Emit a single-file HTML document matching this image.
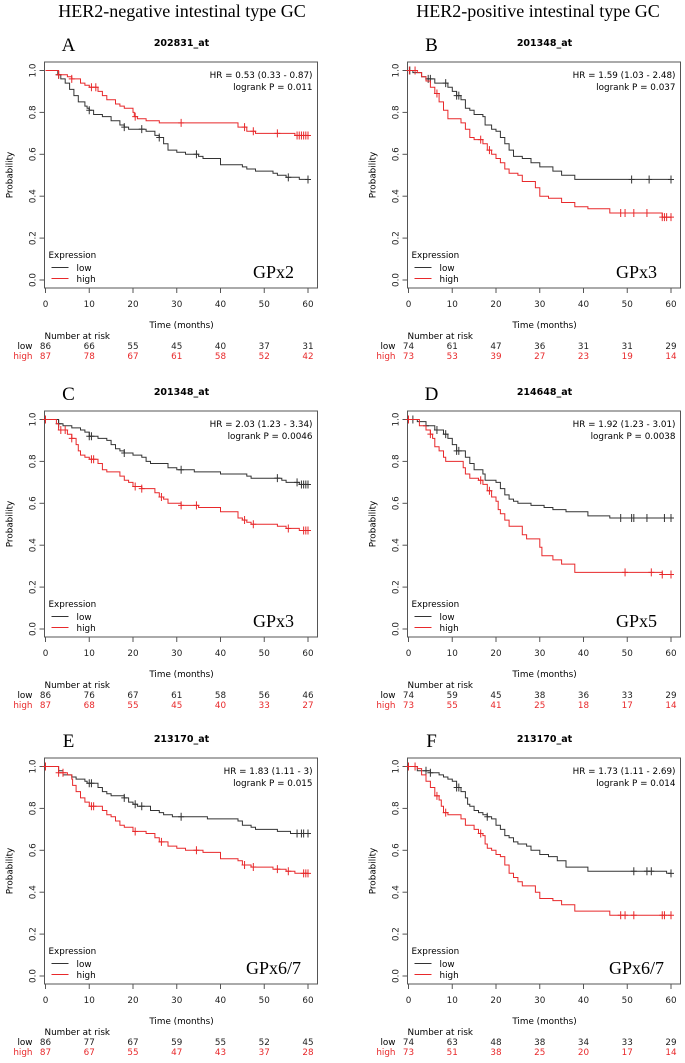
<!DOCTYPE html>
<html><head><meta charset="utf-8"><style>
body{margin:0;background:#fff}
svg{display:block}
text{font-family:"DejaVu Sans","Liberation Sans",sans-serif}
.serif{font-family:"Liberation Serif",serif}
</style></head><body>
<svg id="fig" width="685" height="1063" viewBox="0 0 685 1063" xmlns="http://www.w3.org/2000/svg">
<text class="serif" x="182" y="17" text-anchor="middle" font-size="18">HER2-negative intestinal type GC</text>
<text class="serif" x="538" y="17" text-anchor="middle" font-size="18">HER2-positive intestinal type GC</text>
</svg>
<script>
// Panel metadata
const panelLetters = ["A","B","C","D","E","F"];
const probeTitles = ["202831_at","201348_at","201348_at","214648_at","213170_at","213170_at"];
const geneLabels = ["GPx2","GPx3","GPx3","GPx5","GPx6/7","GPx6/7"];
const hrLabels = ["HR = 0.53 (0.33 - 0.87)","HR = 1.59 (1.03 - 2.48)","HR = 2.03 (1.23 - 3.34)","HR = 1.92 (1.23 - 3.01)","HR = 1.83 (1.11 - 3)","HR = 1.73 (1.11 - 2.69)"];
const pLabels = ["logrank P = 0.011","logrank P = 0.037","logrank P = 0.0046","logrank P = 0.0038","logrank P = 0.015","logrank P = 0.014"];
const xTicks = [0,10,20,30,40,50,60];
const yTicks = [0,0.2,0.4,0.6,0.8,1.0];
const riskLow = [[86,66,55,45,40,37,31],[74,61,47,36,31,31,29],[86,76,67,61,58,56,46],[74,59,45,38,36,33,29],[86,77,67,59,55,52,45],[74,63,48,38,34,33,29]];
const riskHigh = [[87,78,67,61,58,52,42],[73,53,39,27,23,19,14],[87,68,55,45,40,33,27],[73,55,41,25,18,17,14],[87,67,55,47,43,37,28],[73,51,38,25,20,17,14]];
// Step curves: [time, survival after drop]
const lowTimes = [
[2.8,3.5,4.5,5.5,6.5,7.5,9,9.5,10,11,13,15,17,18,19,23,25,26,27,28,30,32,35,36,40,45,46,48,52,53,55,58],
[1,3,4,6,9,10,11,12,13,14,15,17,17.5,19,20,21,22,23,24,26,28,30,33,35,38],
[3,4,6,8,9,10,12,14,15,16,17,18,20,22,23,24,28,30,34,40,46,47,54,55,58],
[2,4,6,8,9,10,11,13,14,15,17,17.5,20,21,22,23,24,25,28,31,33,36,41,46],
[3,4,6,7,9,9.5,12,13,14,15,18,19,20,21,24,26,27,29,37,44,45,47,48,53,56],
[2,5,7,8,9,10,11,12,13,13.5,14,15,16,17,18,19,20,21,22,23,24,25,27,28,30,32,34,36,41,59]];
const lowSurv = [
[0.98,0.96,0.94,0.91,0.88,0.85,0.83,0.82,0.81,0.79,0.78,0.76,0.74,0.73,0.72,0.71,0.69,0.68,0.65,0.62,0.61,0.60,0.59,0.58,0.55,0.54,0.53,0.52,0.51,0.50,0.49,0.48],
[0.99,0.97,0.96,0.94,0.92,0.90,0.88,0.86,0.82,0.81,0.79,0.78,0.74,0.72,0.71,0.68,0.65,0.62,0.59,0.58,0.56,0.54,0.52,0.50,0.48],
[0.98,0.97,0.96,0.95,0.94,0.92,0.91,0.90,0.88,0.86,0.85,0.84,0.83,0.82,0.80,0.79,0.77,0.76,0.75,0.74,0.73,0.72,0.71,0.70,0.69],
[0.99,0.97,0.95,0.93,0.91,0.88,0.85,0.82,0.79,0.76,0.74,0.71,0.70,0.67,0.64,0.62,0.61,0.60,0.59,0.58,0.57,0.56,0.54,0.53],
[0.98,0.96,0.95,0.94,0.93,0.92,0.90,0.88,0.87,0.86,0.85,0.83,0.82,0.81,0.79,0.78,0.77,0.76,0.75,0.74,0.72,0.71,0.70,0.69,0.68],
[0.98,0.97,0.96,0.95,0.94,0.93,0.90,0.88,0.85,0.82,0.81,0.79,0.78,0.77,0.76,0.75,0.72,0.70,0.67,0.66,0.64,0.63,0.62,0.60,0.58,0.57,0.55,0.52,0.50,0.49]];
const highTimes = [
[3,5,6,8,9,10,12,13,14,16,17,18,20,20.3,21,23,26,44,46,48,57],
[2,3,4,5,6,7,8,9,12,13,14,15,17,18,19,20,21,22,23,25,26,29,30,32,35,38,41,46,58],
[2.5,3,5,6,7,7.5,8,9,10,12,13,14,17,18,19,20,22,25,26,27,28,31,35,40,44,45,46,47,53,55,58],
[2.5,4,5,5.5,6,7,8,8.5,12.5,13,14,16,17,18,19,20,20.5,21,22,23,26,27,30,30.5,33,35,38,58],
[3,5,6,6.2,7,8,9,10,13,14,15,16,17,18,20,23,25,26,28,30,32,36,40,44,45,47,52,55,57],
[2,3,4,5,6,7,7.5,8,9,12,13,15,16,17,17.5,18,19,20,21,22,23,24,25,26,29,30,33,35,38,46]];
const highSurv = [
[0.98,0.97,0.96,0.94,0.93,0.92,0.90,0.88,0.86,0.84,0.83,0.82,0.80,0.78,0.77,0.76,0.75,0.73,0.71,0.70,0.69],
[0.99,0.97,0.95,0.92,0.89,0.85,0.81,0.77,0.75,0.72,0.68,0.67,0.65,0.62,0.60,0.58,0.56,0.53,0.51,0.50,0.47,0.44,0.40,0.39,0.37,0.35,0.34,0.32,0.30],
[0.98,0.95,0.93,0.91,0.88,0.85,0.83,0.82,0.81,0.79,0.76,0.75,0.73,0.71,0.70,0.68,0.67,0.65,0.63,0.62,0.60,0.59,0.58,0.56,0.53,0.52,0.51,0.50,0.49,0.48,0.47],
[0.97,0.95,0.93,0.91,0.87,0.85,0.82,0.80,0.77,0.74,0.72,0.71,0.69,0.66,0.63,0.61,0.57,0.55,0.52,0.49,0.45,0.43,0.39,0.35,0.33,0.31,0.27,0.26],
[0.97,0.96,0.94,0.91,0.88,0.85,0.83,0.81,0.79,0.77,0.76,0.74,0.72,0.71,0.69,0.68,0.66,0.64,0.62,0.61,0.60,0.59,0.56,0.55,0.53,0.52,0.51,0.50,0.49],
[0.99,0.96,0.93,0.90,0.86,0.84,0.81,0.78,0.77,0.75,0.72,0.70,0.68,0.67,0.63,0.61,0.60,0.58,0.57,0.53,0.49,0.47,0.45,0.43,0.40,0.37,0.36,0.34,0.31,0.29]];
const lowCensor = [
[3,10,18,22,26,34.5,55.5,60],
[0.3,4.5,5,8.5,11,11.5,51,55,60],
[3,10,10.5,18,31,53,57.5,58.5,59,59.5,60],
[0,1,4,6.5,8.5,11,11.5,48.5,51,51.5,54.5,58.5,60],
[10,10.5,18,20.5,22,31,57.5,58.5,59,60],
[0,4,5,11,11.5,18,51.5,54.5,55.5,60]];
const highCensor = [
[3,6,10.5,11.5,20.5,31,45.5,47.5,53,57.5,58,58.5,59,59.5,60],
[0.2,1.5,6.5,16.5,18.5,48.5,49.5,51.5,54.5,58,58.5,59,60],
[0,3.5,4.5,6,10.5,11,20.5,22,26.5,31,34.5,45.5,47.5,55.5,59,59.5,60],
[0,5,16.5,18.5,49.5,55.5,58,60],
[0,3,4,10.5,11,20.5,26.5,34.5,45.5,47.5,53,55.5,59,59.5,60],
[0,1.5,6.5,8.5,16.5,48.5,49.5,51.5,58,58.5,60]];

const NS="http://www.w3.org/2000/svg";
const svg=document.getElementById('fig');
function mk(tag,attrs,parent,txt){const e=document.createElementNS(NS,tag);for(const k in attrs)e.setAttribute(k,attrs[k]);if(txt!==undefined)e.textContent=txt;(parent||svg).appendChild(e);return e;}
const BW=273,BH=226,FS=8.8;
const origins=[[44.5,62],[407.5,62],[44.5,411],[407.5,411],[44.5,758],[407.5,758]];
for(let p=0;p<6;p++){
  const ox=origins[p][0],oy=origins[p][1];
  const g=mk('g',{});
  
  
  const X=t=>ox+1+t/60*262.5;
  const Y=s=>oy+218-s*209.5;
  const letter=mk('text',{x:ox+24,y:oy-11,'font-size':19,'text-anchor':'middle','class':'serif'},g,panelLetters[p]);
  
  
  const ttl=mk('text',{x:ox+137,y:oy-16,'font-size':9.5,'font-weight':'bold','text-anchor':'middle'},g,probeTitles[p]);
  
  
  const box=mk('rect',{x:ox,y:oy,width:BW,height:BH,fill:'none',stroke:'#555','stroke-width':1},g);
  
  
  xTicks.forEach((t,i)=>{
    mk('line',{x1:X(t),x2:X(t),y1:oy+BH,y2:oy+BH+5,stroke:'#555'},g);
    const tl=mk('text',{x:X(t),y:oy+BH+19,'font-size':FS,'text-anchor':'middle',fill:'#222'},g,String(t));
    
    
    const lo=mk('text',{x:X(t),y:oy+287,'font-size':FS,'text-anchor':'middle',fill:'#222'},g,String(riskLow[p][i]));
    
    
    const hi=mk('text',{x:X(t),y:oy+297,'font-size':FS,'text-anchor':'middle',fill:'#e8292b'},g,String(riskHigh[p][i]));
    
    
  });
  yTicks.forEach(v=>{
    mk('line',{x1:ox-5,x2:ox,y1:Y(v),y2:Y(v),stroke:'#555'},g);
    const yl=mk('text',{x:ox-9,y:Y(v),'font-size':FS,'text-anchor':'middle',fill:'#222',transform:`rotate(-90 ${ox-9} ${Y(v)})`},g,v.toFixed(1));
    
    
  });
  const yt=mk('text',{x:ox-32,y:oy+BH/2,'font-size':FS,'text-anchor':'middle',transform:`rotate(-90 ${ox-32} ${oy+BH/2})`},g,'Probability');
  
  
  const xt=mk('text',{x:ox+137,y:oy+BH+40,'font-size':FS,'text-anchor':'middle'},g,'Time (months)');
  
  
  const nr=mk('text',{x:ox,y:oy+277,'font-size':FS},g,'Number at risk');
  
  
  const rl=mk('text',{x:ox-12,y:oy+287,'font-size':FS,'text-anchor':'end'},g,'low');
  
  
  const rh=mk('text',{x:ox-12,y:oy+297,'font-size':FS,'text-anchor':'end',fill:'#e8292b'},g,'high');
  
  
  const hr=mk('text',{x:ox+268,y:oy+16,'font-size':FS,'text-anchor':'end'},g,hrLabels[p]);
  
  
  const lp=mk('text',{x:ox+268,y:oy+28,'font-size':FS,'text-anchor':'end'},g,pLabels[p]);
  
  
  const gl=mk('text',{x:ox+229,y:oy+216,'font-size':18,'text-anchor':'middle','class':'serif'},g,geneLabels[p]);
  
  
  const le=mk('text',{x:ox+4,y:oy+196,'font-size':FS},g,'Expression');
  
  
  [['low','#333',209],['high','#e8292b',220]].forEach(([nm,col,yy])=>{
    mk('line',{x1:ox+7,x2:ox+24,y1:oy+yy-3.5,y2:oy+yy-3.5,stroke:col,'stroke-width':1},g);
    const t=mk('text',{x:ox+32,y:oy+yy,'font-size':FS},g,nm);
    
    
  });
  function curve(times,surv,cens,col,nm){
    let d=`M${X(0)},${Y(1)}`;
    for(let i=0;i<times.length;i++){d+=` H${X(times[i]).toFixed(1)} V${Y(surv[i]).toFixed(1)}`;}
    d+=` H${X(60)}`;
    const path=mk('path',{d:d,fill:'none',stroke:col,'stroke-width':1},g);
    
    
    cens.forEach(c=>{
      let v=1;for(let i=0;i<times.length;i++){if(times[i]<=c)v=surv[i];}
      const m=mk('path',{d:`M${X(c)},${Y(v)-4}V${Y(v)+4}M${X(c)-3},${Y(v)}H${X(c)+3}`,stroke:col,'stroke-width':1},g);
      
      
    });
  }
  curve(lowTimes[p],lowSurv[p],lowCensor[p],'#333','low');
  curve(highTimes[p],highSurv[p],highCensor[p],'#e8292b','high');
}
</script>
</body></html>
